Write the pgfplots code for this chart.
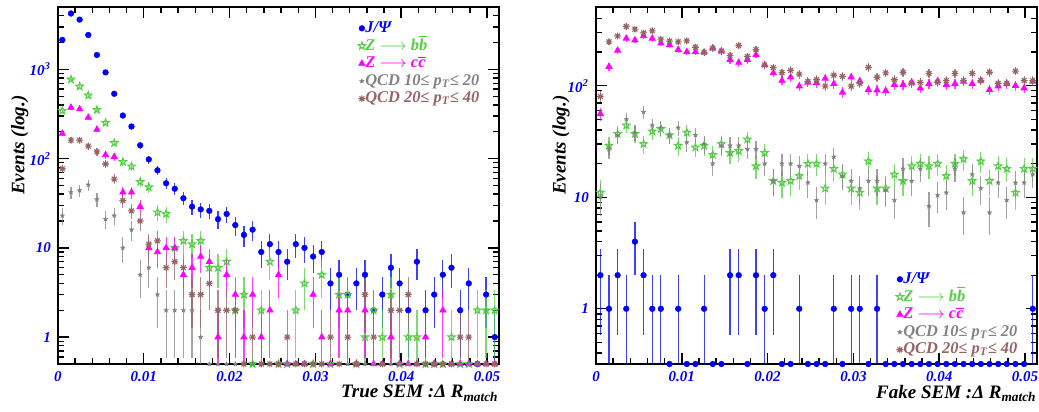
\documentclass[border=0pt]{standalone}
\usepackage{fontspec}
\setmainfont{Liberation Serif}
\usepackage{pgfplots}
\pgfplotsset{compat=1.18}
\usepackage{pgfplotstable}
\usetikzlibrary{plotmarks}

\definecolor{rblue}{RGB}{0,0,255}
\definecolor{rgreen}{RGB}{85,205,70}
\definecolor{rmag}{RGB}{255,0,255}
\definecolor{rgray}{RGB}{130,130,130}
\definecolor{rbrown}{RGB}{150,100,100}

\pgfdeclareplotmark{pstar}{%
 \pgfpathmoveto{\pgfpointpolar{90}{\pgfplotmarksize}}%
 \pgfpathlineto{\pgfpointpolar{126}{0.42\pgfplotmarksize}}%
 \pgfpathlineto{\pgfpointpolar{162}{\pgfplotmarksize}}%
 \pgfpathlineto{\pgfpointpolar{198}{0.42\pgfplotmarksize}}%
 \pgfpathlineto{\pgfpointpolar{234}{\pgfplotmarksize}}%
 \pgfpathlineto{\pgfpointpolar{270}{0.42\pgfplotmarksize}}%
 \pgfpathlineto{\pgfpointpolar{306}{\pgfplotmarksize}}%
 \pgfpathlineto{\pgfpointpolar{342}{0.42\pgfplotmarksize}}%
 \pgfpathlineto{\pgfpointpolar{18}{\pgfplotmarksize}}%
 \pgfpathlineto{\pgfpointpolar{54}{0.42\pgfplotmarksize}}%
 \pgfpathclose\pgfusepathqstroke}
\pgfdeclareplotmark{pstarf}{%
 \pgfpathmoveto{\pgfpointpolar{90}{\pgfplotmarksize}}%
 \pgfpathlineto{\pgfpointpolar{126}{0.42\pgfplotmarksize}}%
 \pgfpathlineto{\pgfpointpolar{162}{\pgfplotmarksize}}%
 \pgfpathlineto{\pgfpointpolar{198}{0.42\pgfplotmarksize}}%
 \pgfpathlineto{\pgfpointpolar{234}{\pgfplotmarksize}}%
 \pgfpathlineto{\pgfpointpolar{270}{0.42\pgfplotmarksize}}%
 \pgfpathlineto{\pgfpointpolar{306}{\pgfplotmarksize}}%
 \pgfpathlineto{\pgfpointpolar{342}{0.42\pgfplotmarksize}}%
 \pgfpathlineto{\pgfpointpolar{18}{\pgfplotmarksize}}%
 \pgfpathlineto{\pgfpointpolar{54}{0.42\pgfplotmarksize}}%
 \pgfpathclose\pgfusepathqfillstroke}
\pgfdeclareplotmark{snow}{%
 \pgfpathmoveto{\pgfqpoint{-\pgfplotmarksize}{0pt}}\pgfpathlineto{\pgfqpoint{\pgfplotmarksize}{0pt}}%
 \pgfpathmoveto{\pgfqpoint{0pt}{-\pgfplotmarksize}}\pgfpathlineto{\pgfqpoint{0pt}{\pgfplotmarksize}}%
 \pgfpathmoveto{\pgfpointpolar{45}{\pgfplotmarksize}}\pgfpathlineto{\pgfpointpolar{225}{\pgfplotmarksize}}%
 \pgfpathmoveto{\pgfpointpolar{135}{\pgfplotmarksize}}\pgfpathlineto{\pgfpointpolar{315}{\pgfplotmarksize}}%
 \pgfusepathqstroke}

% True SEM (left panel): bin index, J/Psi, Z->bb, Z->cc, QCD 10-20, QCD 20-40
\pgfplotstableread{
i J Zb Zc Qa Qb
0 2140 344 191 23 77
1 4230 772 374 42 161
2 3610 644 359 44 161
3 2430 511 289 51 138
4 1450 352 212 35 119
5 925 252 110 21 87
6 533 150 105 23 59
7 304 92 42 10 34
8 229 82 42 16 26
9 141 55 29 5 20
10 98 48 10 6 11
11 74 25 9 3 12
12 53 24 10 2 6
13 46 10 10 2 7
14 36 12 5 2 6
15 29 11 6 2 3
16 27 12 8 1 3
17 26 6 7 0 4
18 21 6 1 0 2
19 24 7 5 0 2
20 18 2 3 0 2
21 14 3 1 0 0
22 16 0 3 0 1
23 9 2 1 0 0
24 11 7 2 0 0
25 9 0 5 0 0
26 7 0 0 0 1
27 11 2 0 0 0
28 10 4 0 0 0
29 8 0 3 0 0
30 9 5 1 0 0
31 4 0 0 0 1
32 5 3 2 0 0
33 3 3 2 0 1
34 4 0 0 0 0
35 5 1 2 0 3
36 2 2 0 0 1
37 3 1 0 0 0
38 6 3 1 0 2
39 4 0 0 0 2
40 2 1 0 0 3
41 7 1 0 0 0
42 2 0 1 0 0
43 3 0 0 0 0
44 5 0 2 0 0
45 6 1 0 0 0
46 2 0 0 0 1
47 4 0 0 0 1
48 0 2 0 0 0
49 3 2 0 0 0
50 1 2 0 0 0
}\tabL

% Fake SEM (right panel)
\pgfplotstableread{
i J Zb Zc Qa Qb
0 2 11 56 10 80
1 1 29 148 27 247
2 2 37 207 36 279
3 1 44 265 50 339
4 4 37 256 38 321
5 2 30 279 58 297
6 1 39 265 44 310
7 1 41 240 42 261
8 0 36 232 36 251
9 1 29 210 42 247
10 0 38 201 31 252
11 0 28 201 36 221
12 1 29 199 30 199
13 0 24 217 20 217
14 0 30 204 29 204
15 2 25 171 29 186
16 2 26 161 29 229
17 0 33 171 27 183
18 2 19 189 27 210
19 1 25 153 20 153
20 2 14 130 14 145
21 0 13.5 111 20 131
22 0 14 119 20 137
23 1 15.5 99 19 127
24 0 20 107 13.5 109
25 0 20 106 9.4 113
26 0 12 116 20 99
27 1 18 104 23 124
28 0 16 87 15.5 121
29 1 12 119 14 99
30 1 11 110 12 105
31 0 21 92 14 146
32 1 12 91 14 119
33 0 12 90 11.6 130
34 0 16 102 9.4 113
35 0 14 102 18 132
36 0 19 107 14 105
37 0 20 95 18 107
38 0 19 104 8.3 129
39 0 20 110 10.4 107
40 0 15.5 102 11 111
41 0 20 104 18 129
42 0 22 109 7.3 111
43 0 14 104 16 129
44 0 21 111 12 111
45 0 14 92 7.3 132
46 0 19 99 13.5 105
47 0 18 104 9.4 105
48 0 11 100 13.5 135
49 0 18 95 13.5 111
50 1 18 109 16 111
}\tabR

\pgfplotsset{
 rootax/.style={
  scale only axis, width=220.5pt, height=178.5pt, anchor=south west,
  xmin=0, xmax=0.0514, scaled x ticks=false,
  xtick={0,0.01,0.02,0.03,0.04,0.05},
  xticklabels={0,0.01,0.02,0.03,0.04,0.05},
  minor x tick num=4,
  tick align=inside, major tick length=5.5pt, minor tick length=3pt,
  axis line style={line width=1pt},
  tick style={line width=0.7pt, black},
  tick label style={font=\fontsize{7.5}{8}\selectfont\bfseries\itshape, text=rblue},
  label style={font=\fontsize{9.5}{10}\selectfont\bfseries\itshape},
  xlabel style={at={(rel axis cs:1,0)}, anchor=base east, yshift=-17pt, inner sep=0pt},
  ylabel={Events (log.)},
  legend style={draw=none, fill=none, anchor=north west,
    font=\fontsize{8.2}{9}\selectfont\bfseries\itshape,
    row sep=0pt, inner sep=0pt,
    nodes={inner sep=0.5pt, text height=6pt, text depth=1.8pt},
    /tikz/every odd column/.append style={column sep=-0.02cm}},
  legend cell align=left,
 },
 sJ/.style={only marks, mark=*, mark size=1.45pt, color=rblue, mark options={fill=rblue, draw=rblue, line width=0.2pt}},
 sZb/.style={only marks, mark=pstar, mark size=1.9pt, color=rgreen, mark options={line width=0.55pt}},
 sZc/.style={only marks, mark=triangle*, mark size=1.75pt, color=rmag, mark options={fill=rmag, draw=rmag}},
 sQa/.style={only marks, mark=pstarf, mark size=1.15pt, color=rgray, mark options={fill=rgray, draw=rgray, line width=0.2pt}},
 sQb/.style={only marks, mark=snow, mark size=1.7pt, color=rbrown, mark options={line width=0.55pt}},
}

\newcommand{\hplot}[5]{%
 \addplot[#1, error bars/.cd, y dir=both, y explicit, error mark=none,
   error bar style={line width=0.6pt, #2, opacity=0.75}]
   table[x expr={(\thisrow{i}+0.5)*0.001008},
   y expr={max(\thisrow{#3},#5)},
   y error plus expr={sqrt(\thisrow{#3})},
   y error minus expr={\thisrow{#3}>1.5 ? sqrt(\thisrow{#3}) : 0.8*\thisrow{#3}}]{#4};}

\begin{document}
\begin{tikzpicture}
\begin{semilogyaxis}[rootax, at={(29pt,24pt)},
  ymin=0.5, ymax=5000,
  ytick={1,10,100,1000},
  yticklabels={1,10,10\textsuperscript{2},10\textsuperscript{3}},
  minor ytick={0.5,0.6,0.7,0.8,0.9,2,3,4,5,6,7,8,9,20,30,40,50,60,70,80,90,200,300,400,500,600,700,800,900,2000,3000,4000,5000},
  xlabel={True SEM :Δ R\textsubscript{match}},
  ylabel style={at={(rel axis cs:-0.066,0.753)}, anchor=south east, inner sep=0pt},
  legend style={at={(0.68,0.966)}}]
\hplot{sJ}{rblue}{J}{\tabL}{0.5}
\addlegendentry{\textcolor{rblue}{J/Ψ}}
\hplot{sZb}{rgreen}{Zb}{\tabL}{0.5}
\addlegendentry{\textcolor{rgreen}{Z $\longrightarrow$ b$\overline{\mbox{b}}$}}
\hplot{sZc}{rmag}{Zc}{\tabL}{0.5}
\addlegendentry{\textcolor{rmag}{Z $\longrightarrow$ c$\overline{\mbox{c}}$}}
\hplot{sQa}{rgray}{Qa}{\tabL}{0.5}
\addlegendentry{\textcolor{rgray}{QCD 10≤ p\textsubscript{T}≤ 20}}
\hplot{sQb}{rbrown}{Qb}{\tabL}{0.5}
\addlegendentry{\textcolor{rbrown}{QCD 20≤ p\textsubscript{T}≤ 40}}
\end{semilogyaxis}

\begin{semilogyaxis}[rootax, at={(298pt,24pt)},
  ymin=0.32, ymax=507,
  ytick={1,10,100},
  yticklabels={1,10,10\textsuperscript{2}},
  minor ytick={0.4,0.5,0.6,0.7,0.8,0.9,2,3,4,5,6,7,8,9,20,30,40,50,60,70,80,90,200,300,400,500},
  xlabel={Fake SEM :Δ R\textsubscript{match}},
  ylabel style={at={(rel axis cs:-0.059,0.753)}, anchor=south east, inner sep=0pt},
  legend style={at={(0.68,0.263)}}]
\hplot{sJ}{rblue}{J}{\tabR}{0.32}
\addlegendentry{\textcolor{rblue}{J/Ψ}}
\hplot{sZb}{rgreen}{Zb}{\tabR}{0.32}
\addlegendentry{\textcolor{rgreen}{Z $\longrightarrow$ b$\overline{\mbox{b}}$}}
\hplot{sZc}{rmag}{Zc}{\tabR}{0.32}
\addlegendentry{\textcolor{rmag}{Z $\longrightarrow$ c$\overline{\mbox{c}}$}}
\hplot{sQa}{rgray}{Qa}{\tabR}{0.32}
\addlegendentry{\textcolor{rgray}{QCD 10≤ p\textsubscript{T}≤ 20}}
\hplot{sQb}{rbrown}{Qb}{\tabR}{0.32}
\addlegendentry{\textcolor{rbrown}{QCD 20≤ p\textsubscript{T}≤ 40}}
\end{semilogyaxis}
\pgfresetboundingbox
\useasboundingbox (0,0) rectangle (519.5pt,206pt);
\end{tikzpicture}
\end{document}
